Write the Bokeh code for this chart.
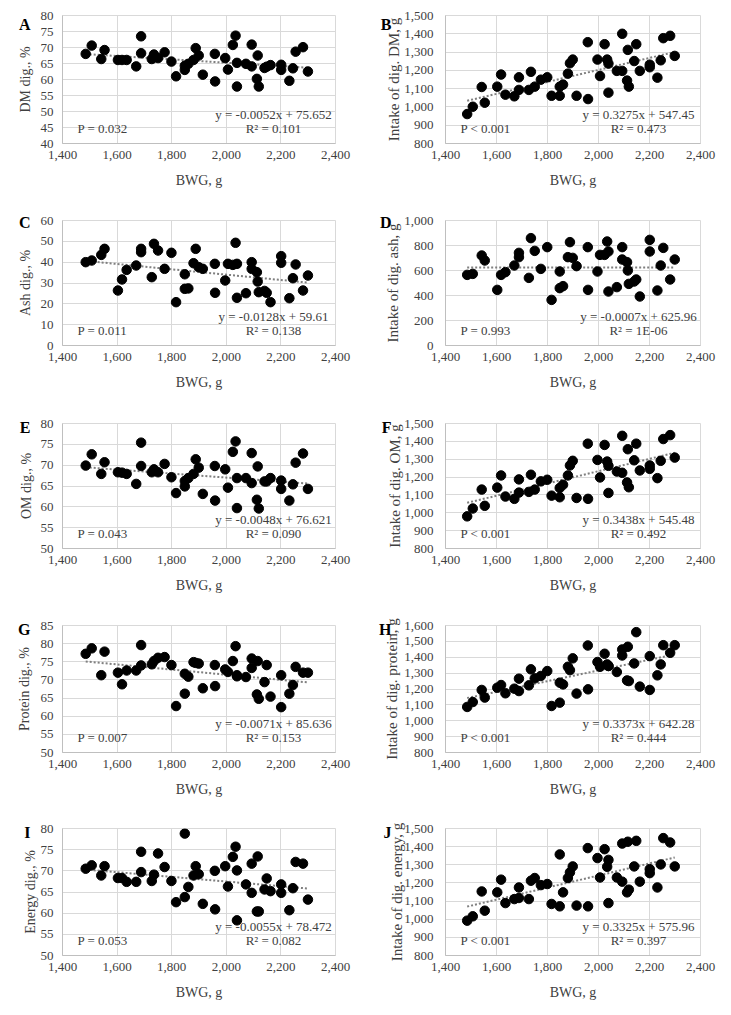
from bokeh.plotting import figure
from bokeh.layouts import column, row
from bokeh.models import (Range1d, SingleIntervalTicker, NumeralTickFormatter, Label,
                          LinearAxis, FixedTicker)
from bokeh.embed import file_html
from bokeh.resources import INLINE

# ---------------- data ----------------
bwg = [1485, 1507, 1542, 1554, 1603, 1618, 1635, 1670, 1688, 1688, 1727, 1735, 1750, 1774,
       1799, 1816, 1848, 1848, 1861, 1880, 1888, 1899, 1914, 1958, 1959, 1996, 2006, 2024,
       2034, 2039, 2039, 2072, 2093, 2093, 2112, 2115, 2119, 2140, 2148, 2162, 2201, 2201,
       2231, 2244, 2254, 2281, 2299]

dm_dig = [68.0, 70.6, 66.4, 69.2, 66.1, 66.1, 66.1, 64.1, 73.5, 68.2, 66.4, 67.8, 66.7, 68.5,
          65.6, 61.0, 63.0, 64.3, 64.9, 66.1, 69.8, 67.5, 61.5, 68.0, 59.4, 66.7, 63.1, 70.8,
          73.7, 65.2, 57.8, 64.9, 70.9, 64.1, 60.2, 67.5, 57.8, 63.6, 64.0, 64.5, 64.6, 63.0,
          59.6, 63.5, 68.7, 70.1, 62.5]
dm_intake = [961, 1001, 1109, 1023, 1111, 1177, 1067, 1058, 1162, 1093, 1093, 1192, 1111, 1149,
             1162, 1061, 1061, 1111, 1122, 1182, 1239, 1259, 1061, 1354, 1043, 1259, 1169, 1343,
             1259, 1237, 1078, 1197, 1400, 1197, 1144, 1312, 1111, 1251, 1343, 1197, 1231, 1217,
             1160, 1255, 1376, 1389, 1279]
ash_dig = [40.0, 40.8, 43.5, 46.4, 26.4, 31.7, 36.3, 38.4, 46.4, 44.8, 32.8, 48.8, 45.6, 36.8,
           44.5, 20.8, 34.2, 27.2, 27.4, 39.5, 46.4, 37.6, 36.8, 39.2, 25.3, 31.2, 39.2, 38.7,
           49.3, 39.2, 22.9, 25.1, 40.0, 36.8, 35.2, 30.7, 25.6, 26.2, 25.3, 20.8, 42.9, 39.7,
           22.7, 32.3, 38.9, 26.4, 33.6]
ash_intake = [565, 573, 720, 680, 445, 565, 587, 640, 741, 707, 541, 859, 757, 613,
              787, 365, 592, 459, 475, 707, 827, 701, 635, 787, 445, 592, 725, 725,
              832, 752, 432, 467, 787, 688, 667, 600, 493, 512, 528, 392, 845, 752,
              440, 640, 781, 528, 688]
om_dig = [69.9, 72.6, 67.9, 70.7, 68.3, 68.2, 67.9, 65.5, 75.4, 69.8, 68.3, 69.0, 68.3, 70.3,
          67.1, 63.3, 66.2, 64.9, 66.9, 67.9, 71.4, 69.4, 63.1, 69.8, 61.5, 69.0, 64.6, 73.2,
          75.7, 66.9, 59.7, 66.9, 72.9, 65.7, 61.7, 69.7, 59.6, 66.1, 66.1, 66.9, 66.3, 64.3,
          61.5, 65.4, 70.6, 72.8, 64.3]
om_intake = [980, 1024, 1130, 1039, 1141, 1209, 1091, 1078, 1187, 1113, 1117, 1213, 1130, 1176,
             1185, 1096, 1087, 1139, 1157, 1209, 1265, 1291, 1083, 1387, 1078, 1296, 1198, 1380,
             1287, 1263, 1111, 1231, 1431, 1224, 1170, 1356, 1143, 1294, 1387, 1237, 1265, 1246,
             1194, 1291, 1413, 1435, 1309]
protein_dig = [77.2, 78.7, 71.3, 77.8, 72.0, 68.8, 72.6, 72.6, 79.6, 74.0, 74.3, 75.2, 76.1, 76.3,
               74.1, 62.8, 66.2, 71.7, 70.9, 74.9, 74.7, 74.5, 67.7, 74.1, 68.3, 72.9, 72.2, 75.2,
               79.3, 71.3, 71.0, 70.8, 75.9, 73.3, 66.0, 75.2, 64.8, 69.4, 74.1, 65.4, 71.3, 62.5,
               66.2, 68.6, 73.6, 72.0, 72.0]
protein_intake = [1087, 1118, 1194, 1146, 1208, 1225, 1173, 1202, 1265, 1187, 1223, 1324, 1267, 1282,
                  1313, 1093, 1240, 1114, 1229, 1340, 1319, 1393, 1171, 1474, 1198, 1370, 1340, 1422,
                  1355, 1345, 1345, 1307, 1449, 1411, 1254, 1466, 1250, 1361, 1558, 1215, 1407, 1194,
                  1286, 1355, 1476, 1428, 1476]
energy_dig = [70.5, 71.3, 68.9, 71.1, 68.3, 68.3, 67.4, 67.4, 74.5, 69.7, 67.6, 69.1, 74.1, 70.9,
              67.6, 62.6, 78.8, 63.8, 66.2, 68.9, 71.1, 69.2, 62.2, 70.0, 60.9, 71.1, 66.3, 73.3,
              75.7, 70.1, 58.3, 66.8, 71.7, 64.8, 60.4, 73.4, 60.4, 65.6, 68.2, 65.2, 66.8, 64.8,
              60.7, 65.9, 72.1, 71.7, 63.2]
energy_intake = [992, 1016, 1153, 1047, 1148, 1218, 1089, 1111, 1175, 1117, 1111, 1212, 1227, 1188,
                 1194, 1084, 1357, 1071, 1148, 1227, 1258, 1291, 1075, 1392, 1071, 1337, 1230, 1386,
                 1289, 1327, 1089, 1230, 1417, 1207, 1148, 1427, 1163, 1291, 1432, 1207, 1276, 1254,
                 1175, 1302, 1447, 1423, 1291]

letters = ["A", "B", "C", "D", "E", "F", "G", "H", "I", "J"]
y_labels = ["DM dig., %", "Intake of dig. DM, g", "Ash dig., %", "Intake of dig. ash, g",
            "OM dig., %", "Intake of dig. OM, g", "Protein dig., %", "Intake of dig. protein, g",
            "Energy dig., %", "Intake of dig. energy, g"]
y_series = [dm_dig, dm_intake, ash_dig, ash_intake, om_dig, om_intake,
            protein_dig, protein_intake, energy_dig, energy_intake]
y_min = [40, 800, 0, 0, 50, 800, 50, 800, 50, 800]
y_max = [80, 1500, 60, 1000, 80, 1500, 85, 1600, 80, 1500]
y_step = [5, 100, 10, 200, 5, 100, 5, 100, 5, 100]
slopes = [-0.0052, 0.3275, -0.0128, -0.0007, -0.0048, 0.3438, -0.0071, 0.3373, -0.0055, 0.3325]
intercepts = [75.652, 547.45, 59.61, 625.96, 76.621, 545.48, 85.636, 642.28, 78.472, 575.96]
eq_texts = ["y = -0.0052x + 75.652", "y = 0.3275x + 547.45", "y = -0.0128x + 59.61",
            "y = -0.0007x + 625.96", "y = -0.0048x + 76.621", "y = 0.3438x + 545.48",
            "y = -0.0071x + 85.636", "y = 0.3373x + 642.28", "y = -0.0055x + 78.472",
            "y = 0.3325x + 575.96"]
r2_texts = ["R² = 0.101", "R² = 0.473", "R² = 0.138", "R² = 1E-06", "R² = 0.090",
            "R² = 0.492", "R² = 0.153", "R² = 0.444", "R² = 0.082", "R² = 0.397"]
p_texts = ["P = 0.032", "P < 0.001", "P = 0.011", "P = 0.993", "P = 0.043",
           "P < 0.001", "P = 0.007", "P < 0.001", "P = 0.053", "P < 0.001"]
x_min, x_max, x_step = 1400, 2400, 200

# ---------------- layout / style ----------------
FONT = "Liberation Serif"
TXT = "#404040"
GRID = "#d9d9d9"
row_heights = [205, 203, 202, 203, 200]
frame_heights = [128, 125, 125, 127, 127]
border_top = 15
letter_drop = [9, 2, 4, 4, 4]
col_width = [365, 366]
col_border_left = [62, 80]
col_border_right = [30, 31]
col_tick_standoff = [9, 12]
col_letter_standoff = [7, 10]
col_label_standoff = [-17, -24]
col_ylabel_size = ["14px", "15px"]


def style_axis(ax):
    ax.axis_line_color = "#bfbfbf"
    ax.major_tick_line_color = None
    ax.minor_tick_line_color = None
    ax.major_tick_out = 0
    ax.major_tick_in = 0
    ax.minor_tick_out = 0
    ax.minor_tick_in = 0
    ax.major_label_text_font = FONT
    ax.major_label_text_font_size = "13px"
    ax.major_label_text_color = TXT
    ax.axis_label_text_font = FONT
    ax.axis_label_text_font_size = "14px"
    ax.axis_label_text_font_style = "normal"
    ax.axis_label_text_color = TXT


def make_panel(i):
    r, c = divmod(i, 2)
    h, fh = row_heights[r], frame_heights[r]
    ymin, ymax = y_min[i], y_max[i]
    yr = ymax - ymin
    p = figure(width=col_width[c], height=h,
               min_border_left=col_border_left[c], min_border_right=col_border_right[c],
               min_border_top=border_top, min_border_bottom=h - border_top - fh,
               x_range=Range1d(x_min, x_max), y_range=Range1d(ymin, ymax),
               output_backend="svg", toolbar_location=None, tools="")
    p.background_fill_color = "white"
    p.border_fill_color = "white"
    p.outline_line_color = GRID

    xax = p.xaxis[0]
    yax = p.yaxis[0]
    style_axis(xax)
    style_axis(yax)
    xax.ticker = SingleIntervalTicker(interval=x_step, num_minor_ticks=0)
    yax.ticker = SingleIntervalTicker(interval=y_step[i], num_minor_ticks=0)
    xax.formatter = NumeralTickFormatter(format="0,0")
    yax.formatter = NumeralTickFormatter(format="0,0")
    xax.axis_label = "BWG, g"
    xax.major_label_standoff = 7
    xax.axis_label_standoff = 11
    yax.major_label_standoff = col_tick_standoff[c]

    p.xgrid.grid_line_color = GRID
    p.ygrid.grid_line_color = GRID

    # outer bare axis: its single tick label is the panel letter, its title the y label
    top = ymax - letter_drop[r] / fh * yr
    lax = LinearAxis(ticker=FixedTicker(ticks=[top]),
                     major_label_overrides={top: letters[i]},
                     axis_line_color=None, major_tick_line_color=None,
                     minor_tick_line_color=None,
                     major_tick_out=0, major_tick_in=0, minor_tick_out=0, minor_tick_in=0,
                     major_label_standoff=col_letter_standoff[c],
                     major_label_text_font=FONT, major_label_text_font_size="16px",
                     major_label_text_font_style="bold", major_label_text_color="black",
                     axis_label=y_labels[i], axis_label_text_font=FONT,
                     axis_label_text_font_size=col_ylabel_size[c],
                     axis_label_text_font_style="normal", axis_label_text_color=TXT,
                     axis_label_standoff=col_label_standoff[c])
    p.add_layout(lax, "left")

    # trendline from the regression equation across the observed range
    lx = [min(bwg), max(bwg)]
    ly = [slopes[i] * v + intercepts[i] for v in lx]
    p.line(lx, ly, line_color="#7f7f7f", line_width=2, line_dash="2 2")

    p.scatter(bwg, y_series[i], size=9.5, fill_color="black", line_color="black")

    def yfrac(px):
        return ymin + px / fh * yr

    p.add_layout(Label(x=x_max, y=yfrac(29), x_offset=-62, text=eq_texts[i],
                       text_font=FONT, text_font_size="13px", text_color=TXT,
                       text_align="center", text_baseline="middle"))
    p.add_layout(Label(x=x_max, y=yfrac(15), x_offset=-62, text=r2_texts[i],
                       text_font=FONT, text_font_size="13px", text_color=TXT,
                       text_align="center", text_baseline="middle"))
    p.add_layout(Label(x=x_min, y=yfrac(15), x_offset=15, text=p_texts[i],
                       text_font=FONT, text_font_size="13px", text_color=TXT,
                       text_align="left", text_baseline="middle"))
    return p


panels = [make_panel(i) for i in range(10)]
layout = column(*[row(panels[2 * k], panels[2 * k + 1]) for k in range(5)])

open("out.html", "w").write(file_html(layout, INLINE))
